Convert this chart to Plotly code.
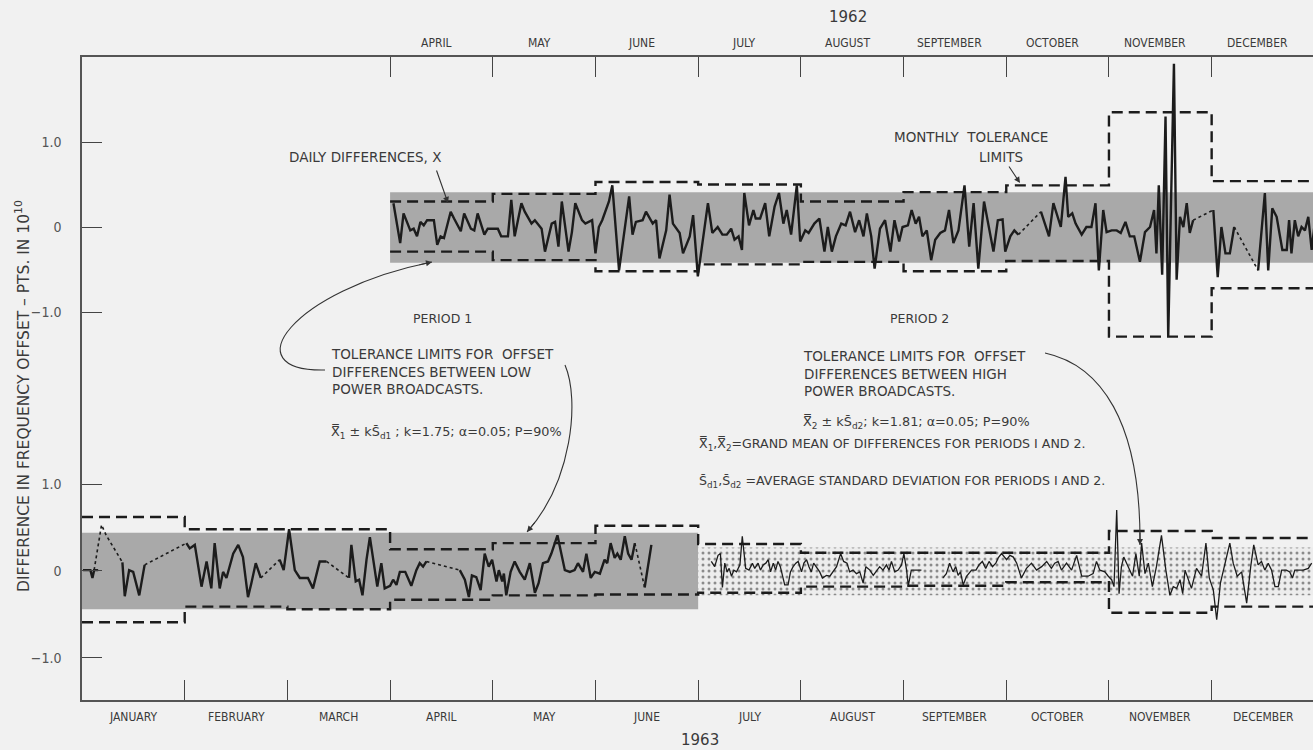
import plotly.graph_objects as go

# ---------------------------------------------------------------- data
MONTHS = ["JANUARY", "FEBRUARY", "MARCH", "APRIL", "MAY", "JUNE", "JULY",
          "AUGUST", "SEPTEMBER", "OCTOBER", "NOVEMBER", "DECEMBER"]
MONTH_LEN = 30.5           # days per month on the drawn scale
TOP_START_MONTH = 3        # 1962 record starts in April

# 1962 daily differences, days counted from 1 April 1962 (None = break)
top_day = [1, 3, 4, 6, 7, 8, 9, 10, 11, 13, 14, 15, 16, 18, 19, 21, 22, 24, 25, 26, 28, 29,
           32, 33, 35, 36, 37, 39, 40, 42, 43, 45, 46, 48, 49, 50, 51, 53, 54, 55, 57, 58, 60,
           61, 62, 63, 65, 66, 68, 70, 71, 72, 73, 75, 76, 78, 79, 80, 82, 83, 84, 86, 87, 89,
           90, 91.4, 94.4, 95.7, 97.3, 98.7, 100, 101.3, 102.3, 103.5, 104.5, 105.2, 106.6,
           107.9, 108.6, 109.9, 111.4, 112.6, 114.2, 115.5, 116.8, 117.8, 119.1, 120.8, 121.8,
           123.3, 124.3, 126, 127.5, 129, 130, 131.2, 132.4, 134, 135.3, 136.6, 138.1, 139.3,
           140.6, 141.6, 142.9, 143.9, 145.5, 147, 148.6, 149.8, 151.2, 152.2, 153.8, 154.9,
           156.1, 157.1, 158.1, 159.4, 160.7, 161.9, 163.4, 164.8, 166, 167.3, 168.8, 170.6,
           172, 173.3, 174.7, 176.4, 177.7, 179.2, 180.5, 181.9, 182.7, 184.2, 185.4, 186.6,
           None,
           193.3, 194.5, 195.7, 197, 198, 199.2, 200.6, 201.4, 202.6, 203.6, 205.4, 206.8,
           208.3, 209.5, 210.5, 211.8, 212.8, 214.3, 215.8, 217, 218.4, 219.7, 221, 222.7,
           224.2, 225.7, 226.9, 227.6, 228.3, 229.3, 230.3, 231.1, 232.8, 233.6, 234.6, 235.6,
           236.6, 237.5, 238.5,
           None,
           244.5, 245.8, 246.9, 248.1, 249.4, 250.7,
           None,
           257.8, 259.8, 260.8, 262, 263.3, 265, 266.3, 267, 267.7, 268.7, 269.7, 270.7,
           271.7, 272.7, 273.7, 274.6]
top_val = [0.28, -0.19, 0.16, -0.04, -0.02, -0.11, 0.06, 0.02, 0.08, 0.08, -0.21, -0.11,
           -0.13, 0.18, 0.10, -0.05, 0.16, -0.02, -0.04, 0.16, -0.09, -0.02,
           -0.02, -0.11, -0.11, 0.32, -0.11, 0.28, 0.18, 0.04, 0.08, -0.02, -0.29, 0.04, 0.06,
           -0.23, 0.30, -0.29, -0.06, 0.28, 0.08, 0.04, 0.08,
           -0.31, 0.00, 0.08, 0.30, 0.49, -0.51, 0.08, 0.36, -0.09, 0.06, 0.08, 0.18, 0.04,
           0.08, -0.37, -0.04, 0.38, 0.04, -0.07, -0.31, -0.11,
           0.14, -0.58, 0.28, -0.07, 0.00, -0.09, -0.09, -0.02, -0.15, -0.11, -0.27, 0.40, 0.02,
           0.20, 0.10, 0.10, 0.28, -0.11, 0.24, 0.40, 0.04, 0.20, -0.09, 0.49, -0.17,
           -0.04, -0.07, 0.04, 0.10, -0.29, 0.00, -0.29, -0.11, 0.04, 0.02, 0.18, -0.06, 0.08,
           -0.11, 0.16, -0.11, -0.49, -0.02, 0.08, -0.29, 0.08, -0.17, 0.00, 0.02, 0.20,
           0.04, 0.12, -0.11, -0.04, -0.39, -0.15, -0.07, -0.04, 0.20, -0.19, -0.04, 0.49,
           -0.23, 0.28, -0.49, 0.30, 0.04, -0.29, 0.08, 0.09, -0.29, -0.11, -0.04, -0.09,
           None,
           0.18, 0.04, -0.11, 0.28, 0.16, 0.00, 0.59, 0.12, 0.16, 0.04, -0.09, 0.00,
           0.00, 0.28, -0.51, 0.20, -0.06, -0.04, -0.04, -0.07, 0.06, -0.11, -0.11, -0.41,
           -0.06, 0.00, 0.20, -0.31, 0.49, -0.56, 1.30, -1.29, 1.92, -0.62, 0.12, 0.00,
           0.28, -0.07, 0.08,
           None,
           0.20, -0.59, 0.00, -0.31, -0.31, 0.00,
           None,
           -0.51, 0.40, -0.51, 0.22, 0.12, -0.27, -0.27, 0.08, -0.31, 0.08, -0.11, 0.00,
           -0.04, 0.12, -0.27, 0.04]
top_dot_day = [186.6, 193.3, None, 238.5, 244.5, None, 250.7, 257.8]
top_dot_val = [-0.09, 0.18, None, 0.08, 0.20, None, 0.00, -0.51]

# 1962 monthly tolerance limits, April .. December
top_upper = [0.30, 0.39, 0.53, 0.50, 0.30, 0.41, 0.49, 1.35, 0.54]
top_lower = [-0.29, -0.39, -0.52, -0.44, -0.41, -0.52, -0.40, -1.29, -0.72]
top_band = (-0.42, 0.41)

# 1963 period 1 (low power), days counted from 1 January 1963
p1_day = [0.3, 2.5, 3.1, 3.6, 4.8, None,
          12.0, 12.7, 14.0, 15.2, 17.0, 18.6, None,
          31.0, 32.0, 33.5, 35.5, 37.0, 38.4, 39.4, 40.9, 41.9, 42.9, 44.9, 46.4, 47.8,
          49.3, 50.3, 51.6, 53.1, None,
          58.7, 59.9, 61.5, 63.2, 64.7, 67.1, 68.6, 70.6, 72.6, None,
          79.3, 80.0, 81.3, 82.3, 83.3, 84.5, 85.5, 86.4, 87.7, 88.9, 89.9, 91.5, 92.4,
          93.4, 94.4, 96.0, 97.8, 99.3, 100.3, 101.3, 102.3, None,
          112.2, 113.7, 114.9, 115.8, 117.1, 118.4, 119.6, 120.8, 121.8, 123.1, 123.8, 124.8,
          125.3, 126.0, 127.3, 128.5, 130.0, 131.5, 133.0, 134.5, 135.6, 136.9, 138.4, 139.4,
          141.2, 142.4, 143.4, 144.9, 146.3, 147.3, 148.8, 149.8, 151.1, 152.3, 153.8, 155.2,
          156.0, 157.0, 158.2, 159.0, 160.0, 161.2, 162.2, 163.2, 164.2, None,
          167.1, 169.1]
p1_val = [0.01, 0.01, -0.08, 0.01, 0.01, None,
          0.10, -0.29, 0.01, -0.01, -0.28, 0.07, None,
          0.32, 0.26, 0.30, -0.18, 0.11, -0.20, 0.32, -0.20, -0.01, -0.08, 0.20, 0.30, 0.16,
          -0.30, -0.14, 0.09, -0.08, None,
          0.13, 0.01, 0.48, 0.01, -0.08, -0.08, -0.20, 0.11, 0.11, None,
          -0.08, 0.30, -0.12, -0.10, -0.28, 0.13, 0.39, 0.16, -0.18, 0.09, -0.20, -0.17, -0.10,
          -0.16, -0.01, -0.01, -0.17, 0.01, 0.09, 0.05, 0.11, None,
          0.01, -0.10, -0.30, -0.05, -0.07, -0.22, 0.20, 0.05, 0.13, -0.12, 0.01, -0.12,
          -0.03, -0.28, -0.01, 0.11, -0.01, -0.10, 0.09, -0.25, -0.14, 0.09, 0.11, 0.20,
          0.41, 0.20, 0.01, -0.01, 0.01, 0.09, -0.01, 0.20, -0.08, -0.01, -0.03, 0.13,
          0.09, 0.32, 0.15, 0.20, 0.13, 0.40, 0.20, 0.13, 0.32, None,
          -0.19, 0.30]
p1_dot_day = [3.6, 5.8, 7.2, 12.0, None, 18.6, 31.0, None, 53.1, 58.7, None,
              72.6, 79.3, None, 102.3, 112.2, None, 164.2, 167.1]
p1_dot_val = [0.01, 0.53, 0.41, 0.10, None, 0.07, 0.32, None, -0.08, 0.13, None,
              0.11, -0.08, None, 0.11, 0.01, None, 0.32, -0.19]

# 1963 period 2 (high power)
p2_day = [186.9, 187.9, 188.9, 189.6, 190.2, 190.9, 191.6, 192.2, 192.9, 193.6, 194.4, 195.4,
          196.1, 197.1, 198.1, 199.1, 199.8, 200.8, 201.5, 202.3, 203.1, 203.8, 204.5, 205.3,
          206.0, 206.7, 207.4, 208.2, 208.7, 209.7, 210.4, 211.2, 212.0, 212.7, 213.7, 214.4,
          215.2, 215.9, 216.6, 217.3, 218.1, 219.1, 219.9, 221.1, 222.1, 223.1, 224.1, 225.3,
          226.2, 227.2, 228.0, 229.0, 230.0, 231.0, 232.0, 232.8, 234.0, 235.0, 236.0, 236.9,
          237.9, 238.9, 239.7, 240.4, 241.4, 242.4, 243.4, 244.1, 244.9, 245.4, 246.3, 249.3,
          None,
          255.7, 256.7, 257.7, 258.7, 259.5, 260.2, 260.9, 261.7, 262.7, 264.2, 265.5, 266.4,
          267.4, 268.4, 269.4, 270.4, 271.4, 272.1, 273.1, 274.1, 274.6, 275.6, 276.6, 277.6,
          279.0, 280.5, 282.0, 283.5, 285.0, 286.5, 287.9, 288.9, 289.9, 290.9, 292.4, 293.9,
          295.4, 296.9, 298.8, 300.3, 301.3, 302.3, 303.8, 304.8, 305.8, 306.5, 307.3, 308.0,
          308.7, 309.4, 310.7, 312.0, 313.0, 314.0, 314.7, 315.7, 316.7, 317.9, 319.1, 320.6,
          321.9, 323.1, 324.1, 325.1, 326.1, 326.9, 327.6, 328.5, 329.5, 331.0, 332.5, 333.8,
          334.8, 336.0, 337.0, 338.1, 339.4, 340.9, 341.9, 343.1, 344.4, 345.9, 347.1, 348.0,
          349.3, 350.3, 351.3, 352.3, 353.3, 354.3, 355.3, 356.3, 357.7, 358.7, 359.5, 360.2,
          361.2, 362.7, 364.2, 365.2]
p2_val = [0.11, 0.05, 0.18, 0.20, -0.19, 0.09, -0.01, 0.03, -0.06, 0.01, -0.01, 0.07,
          0.40, 0.03, 0.01, 0.09, 0.03, 0.09, 0.01, 0.07, 0.09, 0.13, -0.01, 0.09,
          0.01, 0.11, 0.05, -0.08, -0.16, -0.16, -0.01, 0.05, 0.09, 0.11, -0.01, 0.09,
          0.13, 0.05, -0.01, 0.09, 0.05, -0.01, -0.08, -0.05, -0.06, -0.01, 0.05, 0.20,
          0.11, 0.09, -0.01, 0.01, -0.03, -0.01, -0.14, 0.05, 0.01, -0.05, 0.01, 0.05,
          0.01, 0.07, 0.01, 0.11, -0.01, 0.01, 0.07, 0.20, 0.01, -0.17, 0.01, 0.01,
          None,
          -0.08, -0.03, 0.09, -0.01, 0.05, -0.05, -0.01, -0.16, -0.06, 0.01, 0.01, 0.07,
          0.11, 0.03, 0.11, 0.05, 0.09, 0.15, 0.20, 0.16, 0.13, 0.18, 0.16, 0.09,
          -0.08, 0.03, 0.09, 0.01, 0.05, 0.11, 0.03, 0.09, 0.11, 0.01, 0.09, 0.01,
          0.18, -0.06, -0.06, -0.03, 0.11, 0.01, -0.01, -0.06, -0.10, -0.18, 0.70, -0.26,
          0.05, 0.16, 0.05, -0.06, 0.20, -0.06, 0.32, -0.03, 0.09, -0.18, 0.05, 0.41,
          0.01, -0.28, -0.18, -0.20, -0.10, -0.26, 0.01, -0.10, -0.20, 0.03, -0.06, 0.32,
          -0.08, -0.22, -0.56, -0.14, 0.07, 0.32, 0.09, -0.06, -0.01, -0.37, 0.05, 0.30,
          0.07, 0.11, 0.01, 0.09, 0.01, -0.18, -0.18, 0.01, 0.01, -0.01, -0.08, 0.01,
          0.01, 0.01, 0.03, 0.09]

# 1963 monthly tolerance limits, January .. December
bot_upper = [0.62, 0.48, 0.48, 0.25, 0.32, 0.52, 0.31, 0.21, 0.21, 0.21, 0.46, 0.38]
bot_lower = [-0.59, -0.41, -0.44, -0.33, -0.28, -0.27, -0.25, -0.18, -0.17, -0.13, -0.48, -0.41]
p1_band = (-0.44, 0.44)
p2_band = (-0.28, 0.27)
PERIOD_SPLIT_MONTH = 6

# ---------------------------------------------------------------- layout constants
W, H = 1313, 750
ML, MT, MB = 82, 57, 50
X_RANGE = [0, 365.6]
TOP_RANGE = [-2.035, 2.0]
BOT_RANGE = [-1.483, 1.966]
SPLIT = 0.4666
INK = "#1c1c1c"
TEXT = "#3a3a3a"
BG = "#f1f1f1"
LABEL_FONT = "Liberation Sans Narrow, DejaVu Sans Condensed, Roboto Condensed, Arial Narrow, sans-serif"
NOTE_FONT = "DejaVu Sans, Liberation Sans, sans-serif"


def paper(px, py):
    """window pixel -> paper coordinates (for decorations only)"""
    return (px - ML) / (W - ML), (H - MB - py) / (H - MB - MT)


def shift(days, offset):
    return [None if d is None else d + offset for d in days]


def steps(values, first_month):
    xs = [(first_month + i) * MONTH_LEN for i in range(len(values) + 1)]
    return xs, list(values) + [values[-1]]


top_off = TOP_START_MONTH * MONTH_LEN
fig = go.Figure()

# bands
fig.add_trace(go.Scatter(
    x=[top_off, 12 * MONTH_LEN + 5, 12 * MONTH_LEN + 5, top_off, top_off],
    y=[top_band[0], top_band[0], top_band[1], top_band[1], top_band[0]],
    xaxis="x2", yaxis="y2", mode="lines", line=dict(width=0),
    fill="toself", fillcolor="#a9a9a9", hoverinfo="skip"))
split_day = PERIOD_SPLIT_MONTH * MONTH_LEN
fig.add_trace(go.Scatter(
    x=[0, split_day, split_day, 0, 0],
    y=[p1_band[0], p1_band[0], p1_band[1], p1_band[1], p1_band[0]],
    mode="lines", line=dict(width=0),
    fill="toself", fillcolor="#a9a9a9", hoverinfo="skip"))
fig.add_trace(go.Scatter(
    x=[split_day, 12 * MONTH_LEN + 5, 12 * MONTH_LEN + 5, split_day, split_day],
    y=[p2_band[0], p2_band[0], p2_band[1], p2_band[1], p2_band[0]],
    mode="lines", line=dict(width=0), fill="toself", fillcolor="#ededed",
    fillpattern=dict(shape=".", fgcolor="#2a2a2a", bgcolor="#ededed", size=6, solidity=0.2),
    hoverinfo="skip"))

# monthly tolerance limits
dash = dict(color=INK, width=2.4, dash="11px,6px")
for vals, first, ax, ay in [(top_upper, TOP_START_MONTH, "x2", "y2"),
                            (top_lower, TOP_START_MONTH, "x2", "y2"),
                            (bot_upper, 0, "x", "y"),
                            (bot_lower, 0, "x", "y")]:
    xs, ys = steps(vals, first)
    fig.add_trace(go.Scatter(x=xs, y=ys, xaxis=ax, yaxis=ay, mode="lines",
                             line=dict(shape="hv", **dash), hoverinfo="skip"))

# daily differences
fig.add_trace(go.Scatter(x=shift(top_dot_day, top_off), y=top_dot_val, xaxis="x2", yaxis="y2",
                         mode="lines", line=dict(color=INK, width=1.6, dash="dot")))
fig.add_trace(go.Scatter(x=shift(top_day, top_off), y=top_val, xaxis="x2", yaxis="y2",
                         mode="lines", line=dict(color=INK, width=2.4)))
fig.add_trace(go.Scatter(x=p1_dot_day, y=p1_dot_val, mode="lines",
                         line=dict(color=INK, width=1.6, dash="dot")))
fig.add_trace(go.Scatter(x=p1_day, y=p1_val, mode="lines", line=dict(color=INK, width=2.4)))
fig.add_trace(go.Scatter(x=p2_day, y=p2_val, mode="lines", line=dict(color=INK, width=1.3)))

# ---------------------------------------------------------------- axes
tick_style = dict(ticks="inside", ticklen=20, tickwidth=1, tickcolor="#444",
                  showgrid=False, zeroline=False)
fig.update_layout(
    width=W, height=H, showlegend=False,
    margin=dict(l=ML, r=0, t=MT, b=MB, pad=0),
    paper_bgcolor=BG, plot_bgcolor=BG,
    font=dict(family=NOTE_FONT, size=12, color=TEXT),
    xaxis=dict(range=X_RANGE, anchor="y", showline=True, linecolor="#555", linewidth=1.5,
               tickvals=[k * MONTH_LEN for k in range(1, 12)], showticklabels=False, **tick_style),
    xaxis2=dict(range=X_RANGE, anchor="y2", side="top", matches="x", showline=True,
                linecolor="#555", linewidth=1.5,
                tickvals=[k * MONTH_LEN for k in range(TOP_START_MONTH, 12)],
                showticklabels=False, **tick_style),
    yaxis=dict(domain=[0, SPLIT], range=BOT_RANGE, anchor="x", showline=True,
               linecolor="#555", linewidth=1.5, tickvals=[-1, 0, 1],
               ticktext=["\u22121.0", "0", "1.0"], ticklabelstandoff=16,
               tickfont=dict(family=LABEL_FONT, size=14, color="#555"), **tick_style),
    yaxis2=dict(domain=[SPLIT, 1], range=TOP_RANGE, anchor="x2", showline=True,
                linecolor="#555", linewidth=1.5, tickvals=[-1, 0, 1],
                ticktext=["\u22121.0", "0", "1.0"], ticklabelstandoff=16,
                tickfont=dict(family=LABEL_FONT, size=14, color="#555"), **tick_style),
    yaxis3=dict(overlaying="y", side="right", range=BOT_RANGE, tickvals=[-1, 0, 1],
                showticklabels=False, showline=False, **tick_style),
    yaxis4=dict(overlaying="y2", side="right", range=TOP_RANGE, tickvals=[-1, 0, 1],
                showticklabels=False, showline=False, **tick_style),
)

# ---------------------------------------------------------------- labels
notes = []
month_font = dict(family=LABEL_FONT, size=12, color=TEXT)
for i, name in enumerate(MONTHS):
    notes.append(dict(x=(i + 0.5) * MONTH_LEN, y=paper(0, 717)[1], xref="x", yref="paper",
                      text=name, showarrow=False, font=month_font,
                      xanchor="center", yanchor="middle"))
    if i >= TOP_START_MONTH:
        notes.append(dict(x=(i + 0.5) * MONTH_LEN - 1.5, y=paper(0, 43)[1], xref="x",
                          yref="paper", text=name, showarrow=False, font=month_font,
                          xanchor="center", yanchor="middle"))


def note(px, py, text, xanchor="left", size=12, align="left", yanchor="middle"):
    x, y = paper(px, py)
    notes.append(dict(x=x, y=y, xref="paper", yref="paper", text=text, showarrow=False,
                      xanchor=xanchor, yanchor=yanchor, align=align,
                      font=dict(family=NOTE_FONT, size=size, color=TEXT)))


def arrow_tip(px, py, ax, ay):
    x, y = paper(px, py)
    notes.append(dict(x=x, y=y, xref="paper", yref="paper", text="", showarrow=True,
                      ax=ax, ay=ay, arrowhead=2, arrowsize=1.1, arrowwidth=1.1,
                      arrowcolor="#333"))


note(848, 17, "1962", "center", 15)
note(700, 740, "1963", "center", 15)
note(22, 396, "DIFFERENCE IN FREQUENCY OFFSET \u2013 PTS. IN 10<sup>10</sup>", "center", 15.5)
notes[-1]["textangle"] = -90

note(287, 157, "DAILY DIFFERENCES, X", size=13.5)
note(892, 137, "MONTHLY  TOLERANCE", size=13.5)
note(1025, 157, "LIMITS", "right", size=13.5)
note(442, 318, "PERIOD 1", "center", 12.5)
note(919, 318, "PERIOD 2", "center", 12.5)
note(329, 344, "TOLERANCE LIMITS FOR  OFFSET<br>DIFFERENCES BETWEEN LOW<br>POWER BROADCASTS.",
     size=13.5, yanchor="top")
note(329, 432, "X\u033f<sub>1</sub> \u00b1 kS\u0304<sub>d1</sub> ; k=1.75; \u03b1=0.05; P=90%",
     size=12.8)
note(801, 346, "TOLERANCE LIMITS FOR  OFFSET<br>DIFFERENCES BETWEEN HIGH<br>POWER BROADCASTS.",
     size=13.5, yanchor="top")
note(801, 422, "X\u033f<sub>2</sub> \u00b1 kS\u0304<sub>d2</sub>; k=1.81; \u03b1=0.05; P=90%",
     size=12.8)
note(697, 444, "X\u033f<sub>1</sub>,X\u033f<sub>2</sub>=GRAND MEAN OF DIFFERENCES FOR PERIODS I AND 2.",
     size=12.6)
note(697, 481, "S\u0304<sub>d1</sub>,S\u0304<sub>d2</sub> =AVERAGE STANDARD DEVIATION FOR PERIODS I AND 2.",
     size=12.6)

arrow_tip(448, 203, -12, -34)
arrow_tip(1020, 183, -12, -18)


def curve(p0, c1, c2, p1):
    pts = [paper(*p) for p in (p0, c1, c2, p1)]
    path = "M {} {} C {} {}, {} {}, {} {}".format(*[v for p in pts for v in p])
    return dict(type="path", path=path, xref="paper", yref="paper",
                line=dict(color="#333", width=1.1))


arrow_tip(432, 262, -14, 3)
arrow_tip(527, 532, 9, -11)
arrow_tip(1140, 545, 0, -14)

fig.update_layout(
    annotations=notes,
    shapes=[
        curve((325, 370), (232, 372), (292, 290), (432, 262)),
        curve((565, 365), (580, 400), (572, 482), (527, 532)),
        curve((1045, 353), (1100, 365), (1141, 420), (1140, 545)),
    ],
)

fig.write_html("out.html", config={"displayModeBar": False},
               post_script="document.body.style.margin='0';")
